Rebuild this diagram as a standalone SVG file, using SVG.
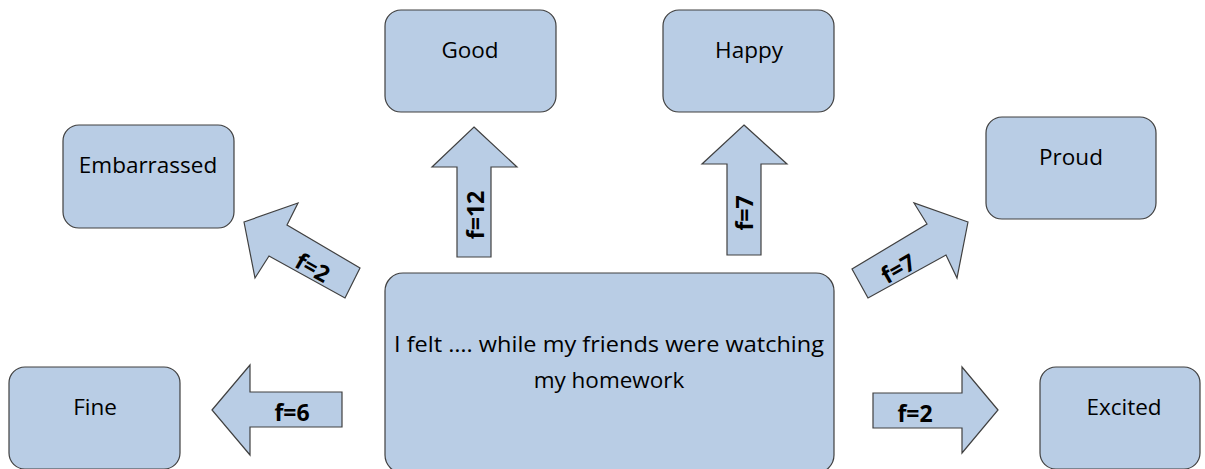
<svg xmlns="http://www.w3.org/2000/svg" width="1205" height="469" viewBox="0 0 1205 469">
<style>
.box{fill:#b9cde5;stroke:#404040;stroke-width:1.2}
.arr{fill:#b9cde5;stroke:#404040;stroke-width:1.2;stroke-linejoin:miter}
.t{font-family:"Open Sans","Liberation Sans",sans-serif;font-size:22.5px;fill:#000;text-anchor:middle}
.lbl{font-family:"Open Sans","Liberation Sans",sans-serif;font-size:23px;font-weight:bold;fill:#000;text-anchor:middle;dominant-baseline:central}
</style>
<rect width="1205" height="469" fill="#fff"/>
<g id="connectors">
<g id="arrow-good"><polygon class="arr" points="474,127 517,167 491,167 491,257 457,257 457,167 432,167"/><text class="lbl" transform="translate(475,215) rotate(-90)">f=12</text></g>
<g id="arrow-happy"><polygon class="arr" points="744,125 787,164 761,164 761,255 727,255 727,164 702,164"/><text class="lbl" transform="translate(744,213) rotate(-90)">f=7</text></g>
<g id="arrow-fine"><polygon class="arr" points="212,410 250,365 250,392 342,392 342,427 250,427 250,455"/><text class="lbl" x="292" y="412">f=6</text></g>
<g id="arrow-excited"><polygon class="arr" points="998,410 962,367 962,393 873,393 873,428 962,428 962,453"/><text class="lbl" x="915" y="413">f=2</text></g>
<g id="arrow-embarrassed"><polygon class="arr" points="244,222 298,203 287,225 360,268 345,298 269,256 255,278"/><text class="lbl" transform="translate(313,267) rotate(29.5)">f=2</text></g>
<g id="arrow-proud"><polygon class="arr" points="968,222 914,203 927,224 852,269 868,298 946,255 957,278"/><text class="lbl" transform="translate(898,268) rotate(-29.5)">f=7</text></g>
</g>
<g id="node-center"><rect class="box" x="385" y="273" width="449" height="200" rx="18"/><text class="t" x="609" y="352" textLength="430" lengthAdjust="spacingAndGlyphs">I felt …. while my friends were watching</text><text class="t" x="609" y="388">my homework</text></g>
<g id="node-good"><rect class="box" x="385" y="10" width="171" height="102" rx="16"/><text class="t" x="470" y="58">Good</text></g>
<g id="node-happy"><rect class="box" x="663" y="10" width="171" height="102" rx="16"/><text class="t" x="749" y="58">Happy</text></g>
<g id="node-embarrassed"><rect class="box" x="63" y="125" width="171" height="103" rx="16"/><text class="t" x="148" y="173">Embarrassed</text></g>
<g id="node-proud"><rect class="box" x="986" y="117" width="170" height="102" rx="16"/><text class="t" x="1071" y="165">Proud</text></g>
<g id="node-fine"><rect class="box" x="9" y="367" width="171" height="102" rx="16"/><text class="t" x="95" y="415">Fine</text></g>
<g id="node-excited"><rect class="box" x="1040" y="367" width="160" height="102" rx="16"/><text class="t" x="1124" y="415">Excited</text></g>
</svg>
